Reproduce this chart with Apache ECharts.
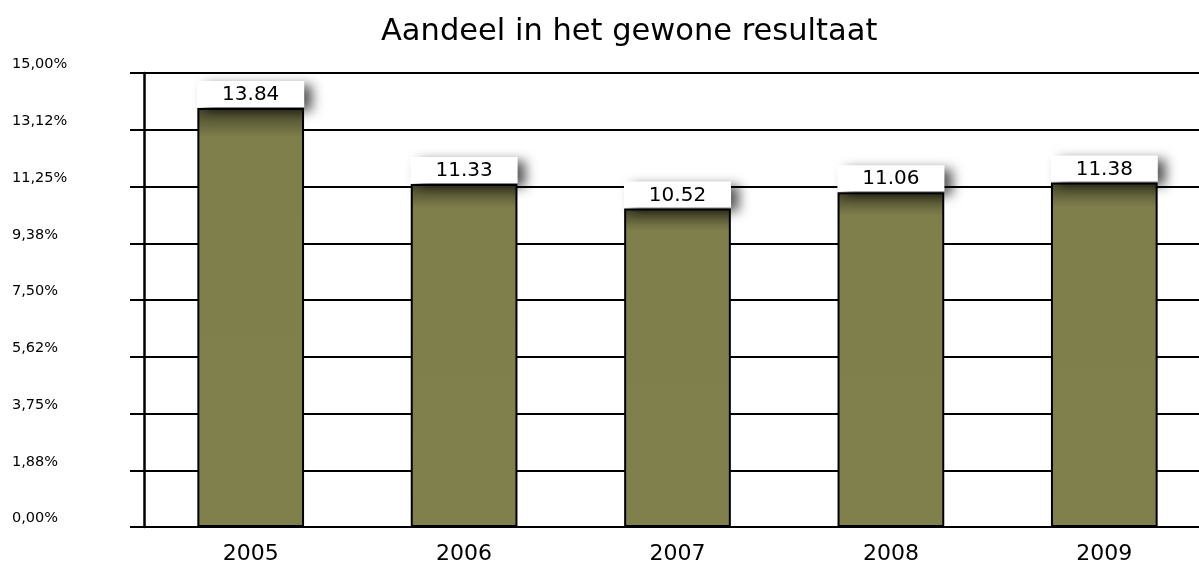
<!DOCTYPE html>
<html>
<head>
<meta charset="utf-8">
<script src="https://cdn.jsdelivr.net/npm/echarts@6/dist/echarts.min.js"></script>
<style>
  html, body { margin: 0; padding: 0; background: #fff; }
  #main { width: 1199px; height: 567px; }
</style>
</head>
<body>
<div id="main"></div>
<script>
const years = ['2005', '2006', '2007', '2008', '2009']
const shares = [13.84, 11.33, 10.52, 11.06, 11.38]
const yTickLabels = ['0,00%', '1,88%', '3,75%', '5,62%', '7,50%', '9,38%', '11,25%', '13,12%', '15,00%']
const yStep = 1.875

const chart = echarts.init(document.getElementById('main'))
const font = 'DejaVu Sans'

// bar colour: olive with a darker band at the top
const barColor = {
  type: 'linear', x: 0, y: 0, x2: 0, y2: 1,
  colorStops: [
    { offset: 0, color: '#45452a' },
    { offset: 0.07, color: '#7f7f4c' },
    { offset: 1, color: '#80804d' }
  ]
}

const option = {
  animation: false,
  title: {
    text: 'Aandeel in het gewone resultaat',
    left: 376,
    top: 12,
    textStyle: { fontFamily: font, fontSize: 30.5, fontWeight: 'normal', color: '#000' }
  },
  // plot runs a little past the right edge of the canvas
  grid: { left: 144, width: 1067, top: 73, bottom: 40, outerBoundsMode: 'none', containLabel: false },
  xAxis: {
    type: 'category',
    data: years,
    axisLine: { show: true, lineStyle: { color: '#000', width: 2 } },
    axisTick: { show: false },
    axisLabel: { margin: 16, fontFamily: font, fontSize: 22, color: '#000' }
  },
  yAxis: {
    type: 'value',
    min: 0,
    max: 15,
    interval: yStep,
    axisLine: { show: true, lineStyle: { color: '#000', width: 2.5 } },
    axisTick: { show: true, length: 14, lineStyle: { color: '#000', width: 2 } },
    splitLine: { show: true, lineStyle: { color: '#000', width: 2 } },
    axisLabel: {
      align: 'left',
      verticalAlign: 'bottom',
      margin: 132,
      padding: [0, 0, 1, 0],
      fontFamily: font,
      fontSize: 14.5,
      color: '#000',
      formatter: function (v) {
        return yTickLabels[Math.round(v / yStep)]
      }
    }
  },
  series: [
    {
      type: 'bar',
      data: shares,
      barWidth: '50%',
      itemStyle: { color: barColor, borderColor: '#000', borderWidth: 2 },
      label: {
        show: true,
        position: 'top',
        distance: 1,
        fontFamily: font,
        fontSize: 20,
        lineHeight: 22,
        color: '#000',
        width: 107,
        align: 'center',
        backgroundColor: '#fff',
        padding: [3, 0, 1, 0],
        shadowColor: 'rgba(0,0,0,0.65)',
        shadowBlur: 12,
        shadowOffsetX: 8,
        shadowOffsetY: 4,
        formatter: function (p) { return p.value.toFixed(2) }
      }
    }
  ]
}

chart.setOption(option)
</script>
</body>
</html>
